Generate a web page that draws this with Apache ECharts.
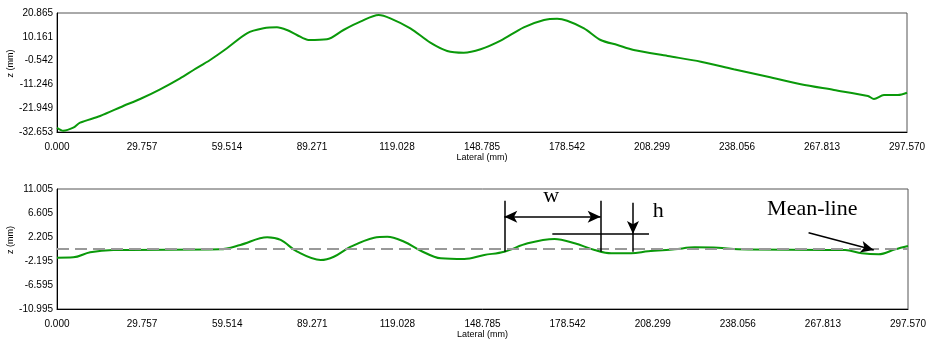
<!DOCTYPE html>
<html>
<head>
<meta charset="utf-8">
<script src="https://cdn.jsdelivr.net/npm/echarts@6/dist/echarts.min.js"></script>
<style>
html,body{margin:0;padding:0;background:#fff;}
#c{width:931px;height:344px;}
</style>
</head>
<body>
<div id="c"></div>
<script>
// ---- data (x in mm, z in mm) ----
const topX = [0, 2.2, 5.7, 8.1, 15.1, 23.2, 29.1, 36.1, 43.1, 47.8, 53.6, 59.5, 66.5, 72.3, 77.0, 80.5, 84.0, 88.1, 94.5, 100.3, 106.2, 112.6, 116.7, 123.7, 130.7, 136.6, 142.4, 148.3, 155.3, 163.4, 170.5, 175.1, 178.6, 184.5, 190.3, 196.2, 201.9, 213.8, 225.4, 236.9, 248.9, 260.4, 272.0, 283.9, 286.0, 289.5, 294.4, 297.57];
const topZ = [-30.72, -32.07, -30.72, -28.47, -25.46, -20.96, -17.81, -13.45, -8.50, -4.77, -0.27, 4.99, 11.74, 13.98, 14.43, 13.22, 10.97, 8.72, 9.04, 13.22, 16.95, 19.97, 18.48, 13.98, 7.51, 3.78, 3.01, 4.54, 8.41, 14.43, 17.72, 18.30, 17.40, 13.98, 8.72, 6.47, 4.23, 1.53, -1.04, -4.45, -7.78, -11.20, -13.76, -16.46, -17.81, -16.01, -16.01, -14.98];

const botX = [0, 5.7, 11.6, 19.7, 57.1, 64.1, 73.5, 78.2, 84.0, 92.2, 96.8, 102.7, 110.9, 115.5, 121.4, 127.2, 134.2, 142.4, 149.4, 156.4, 164.6, 174.0, 181.0, 188.0, 193.8, 200.8, 206.7, 216.0, 223.0, 231.2, 238.2, 275.6, 281.4, 287.3, 293.1, 297.57];
const botZ = [-1.59, -1.52, -0.60, -0.18, -0.05, 0.74, 2.15, 1.66, -0.49, -2.01, -1.41, 0.43, 2.08, 2.26, 1.34, -0.31, -1.70, -1.83, -1.10, -0.49, 1.05, 1.84, 1.05, -0.18, -0.78, -0.78, -0.42, -0.05, 0.31, 0.24, -0.05, -0.18, -0.78, -0.97, -0.05, 0.56];

const meanLine = 0;

// axis tick definitions
const xMin = 0, xStep = 29.757, xCount = 10;
const topMin = -32.653, topStep = 10.7036, topCount = 5;
const botMin = -10.995, botStep = 4.4, botCount = 5;

const labelFont = {fontFamily: 'Liberation Sans, Arial, sans-serif', fontSize: 10, color: '#000'};
const nameFont = {fontFamily: 'Liberation Sans, Arial, sans-serif', fontSize: 9, color: '#000'};
const serif = 'Liberation Serif, Times New Roman, serif';

const topData = topX.map((x, i) => [x, topZ[i] - topMin]);
const botData = botX.map((x, i) => [x, botZ[i] - botMin]);
const b = z => z - botMin;

function xAxisCfg(gi) {
  return {
    gridIndex: gi, type: 'value', min: xMin, max: xMin + xStep * xCount, interval: xStep,
    name: 'Lateral (mm)', nameLocation: 'middle', nameGap: 21, nameTextStyle: nameFont, nameMoveOverlap: false,
    axisLine: {show: true, lineStyle: {color: '#000', width: 1}},
    axisTick: {show: false}, splitLine: {show: false},
    axisLabel: Object.assign({margin: 10, formatter: v => (v).toFixed(3)}, labelFont)
  };
}
function yAxisCfg(gi, mn, st, cnt) {
  return {
    gridIndex: gi, type: 'value', min: 0, max: st * cnt, interval: st,
    name: 'z (mm)', nameLocation: 'middle', nameGap: 42, nameMoveOverlap: false,
    nameTextStyle: Object.assign({padding: [0, 0, 0, 18]}, nameFont),
    axisLine: {show: true, lineStyle: {color: '#000', width: 1}},
    axisTick: {show: false}, splitLine: {show: false},
    axisLabel: Object.assign({margin: 4, formatter: v => (Math.round((v + mn) * 1000) / 1000).toFixed(3)}, labelFont)
  };
}

const blk = {color: '#000', width: 1.5, type: 'solid'};
const chart = echarts.init(document.getElementById('c'), null, {renderer: 'canvas'});
chart.setOption({
  animation: false,
  backgroundColor: '#ffffff',
  grid: [
    {left: 57, right: 24, top: 13, height: 119, show: true, borderColor: '#555', borderWidth: 1, outerBoundsMode: 'none', containLabel: false},
    {left: 57, right: 23, top: 189, height: 120, show: true, borderColor: '#555', borderWidth: 1, outerBoundsMode: 'none', containLabel: false}
  ],
  xAxis: [xAxisCfg(0), xAxisCfg(1)],
  yAxis: [yAxisCfg(0, topMin, topStep, topCount), yAxisCfg(1, botMin, botStep, botCount)],
  series: [
    {
      type: 'line', xAxisIndex: 0, yAxisIndex: 0, data: topData, showSymbol: false, smooth: 0.3,
      lineStyle: {color: '#0a990a', width: 2}, itemStyle: {color: '#0a990a'}
    },
    {
      type: 'line', xAxisIndex: 1, yAxisIndex: 1, data: [], showSymbol: false, silent: true,
      markLine: {
        silent: true, symbol: 'none', label: {show: false},
        lineStyle: {color: '#999', width: 2, type: [12, 6]},
        data: [{yAxis: b(meanLine)}]
      }
    },
    {
      type: 'line', xAxisIndex: 1, yAxisIndex: 1, data: botData, showSymbol: false, smooth: 0.35,
      lineStyle: {color: '#0a990a', width: 2}, itemStyle: {color: '#0a990a'},
      markLine: {
        silent: true, label: {show: false}, symbolSize: [9, 13], lineStyle: blk,
        data: [
          [{coord: [156.4, b(8.86)], symbol: 'none'}, {coord: [156.4, b(-0.49)], symbol: 'none'}],
          [{coord: [190.1, b(8.86)], symbol: 'none'}, {coord: [190.1, b(-0.49)], symbol: 'none'}],
          [{coord: [156.4, b(5.93)], symbol: 'arrow'}, {coord: [190.1, b(5.93)], symbol: 'arrow'}],
          [{coord: [173.2, b(2.75)], symbol: 'none'}, {coord: [207.0, b(2.75)], symbol: 'none'}],
          [{coord: [201.4, b(8.49)], symbol: 'none'}, {coord: [201.4, b(2.75)], symbol: 'arrow'}],
          [{coord: [201.4, b(2.75)], symbol: 'none'}, {coord: [201.4, b(-0.49)], symbol: 'none'}],
          [{coord: [262.8, b(2.99)], symbol: 'none'}, {coord: [285.6, b(-0.18)], symbol: 'arrow'}]
        ]
      },
      markPoint: {
        silent: true, symbol: 'circle', symbolSize: 0,
        label: {show: true, position: 'inside', color: '#000', fontFamily: serif, fontSize: 22, formatter: p => p.name},
        data: [
          {name: 'w', coord: [172.8, b(9.6)]},
          {name: 'h', coord: [210.2, b(6.84)]},
          {name: 'Mean-line', coord: [264.1, b(7.34)]}
        ]
      }
    }
  ]
});
</script>
</body>
</html>
